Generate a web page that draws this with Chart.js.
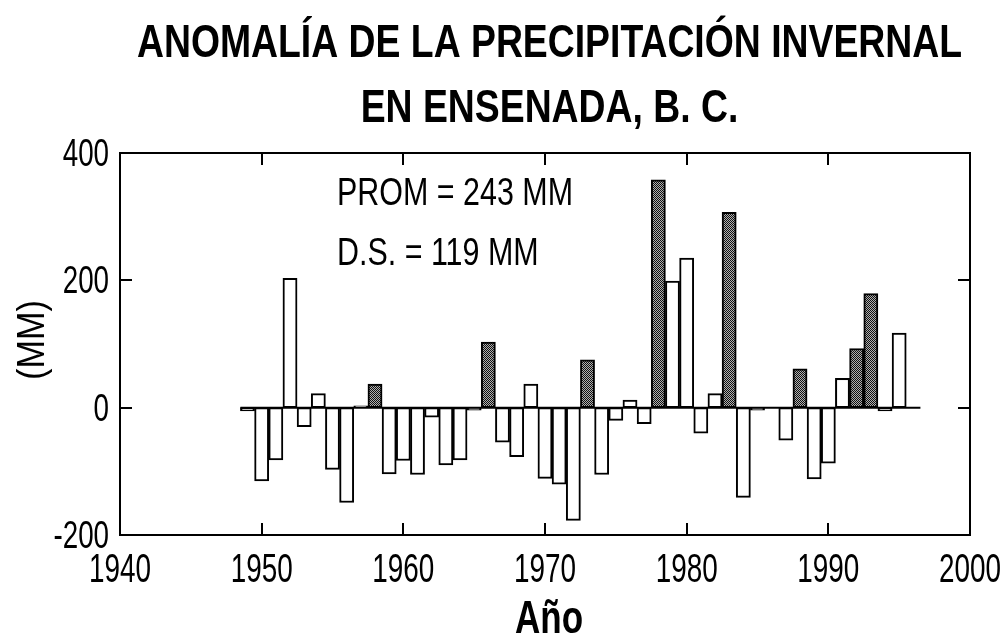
<!DOCTYPE html>
<html>
<head>
<meta charset="utf-8">
<script src="https://cdn.jsdelivr.net/npm/chart.js@4"></script>
<style>
  body { margin: 0; background: #fff; }
  canvas { display: block; }
</style>
</head>
<body>
<canvas id="anomalia_canvas" width="1003" height="637"></canvas>
<script>
// Datos (anomalia en mm)
const years = [1949, 1950, 1951, 1952, 1953, 1954, 1955, 1956, 1957, 1958,
               1959, 1960, 1961, 1962, 1963, 1964, 1965, 1966, 1967, 1968,
               1969, 1970, 1971, 1972, 1973, 1974, 1975, 1976, 1977, 1978,
               1979, 1980, 1981, 1982, 1983, 1984, 1985, 1986, 1987, 1988,
               1989, 1990, 1991, 1992, 1993, 1994, 1995];
const anomalias = [-5, -115, -82, 203, -30, 22, -97, -149, 3, 37,
                   -104, -83, -105, -15, -90, -82, -4, 103, -54, -77,
                   37, -111, -120, -177, 75, -105, -20, 12, -25, 358,
                   199, 235, -40, 22, 307, -141, -4, 0, -51, 61,
                   -112, -87, 46, 93, 179, -5, 117];
// anos con barra sombreada
const sombreados = [1958, 1966, 1973, 1978, 1983, 1988, 1992, 1993];
const zeroLine = [1948.5, 1996.5];
const xTicks = [1940, 1950, 1960, 1970, 1980, 1990, 2000];
const yTicks = [-200, 0, 200, 400];

const titulo = ['ANOMALÍA DE LA PRECIPITACIÓN INVERNAL', 'EN ENSENADA, B. C.'];
const notas = ['PROM = 243 MM', 'D.S. = 119 MM'];

const ctx = document.getElementById('anomalia_canvas');

// trama punteada para las barras sombreadas
const pc = document.createElement('canvas');
pc.width = 2; pc.height = 2;
const p = pc.getContext('2d');
p.fillStyle = '#b0b0b0'; p.fillRect(0, 0, 2, 2);
p.fillStyle = '#111'; p.fillRect(0, 0, 1, 1); p.fillRect(1, 1, 1, 1);
const trama = ctx.getContext('2d').createPattern(pc, 'repeat');

const FAM = '"Liberation Sans", Arial, sans-serif';

// texto angosto: escala horizontal para llegar al ancho deseado
function drawFit(c, text, x, y, font, width, align) {
    c.save();
    c.font = font;
    const sx = width / c.measureText(text).width;
    c.textAlign = align;
    c.textBaseline = 'alphabetic';
    c.translate(x, y);
    c.scale(sx, 1);
    c.fillText(text, 0, 0);
    c.restore();
    return sx;
}
function drawScaled(c, text, x, y, font, sx, align) {
    c.save();
    c.font = font;
    c.textAlign = align;
    c.textBaseline = 'alphabetic';
    c.translate(x, y);
    c.scale(sx, 1);
    c.fillText(text, 0, 0);
    c.restore();
}

const marco = {
    id: 'marco',
    afterDraw(chart) {
        const c = chart.ctx;
        const a = chart.chartArea;
        const xs = chart.scales.x, ys = chart.scales.y;
        c.save();
        c.strokeStyle = '#000';
        c.fillStyle = '#000';
        c.lineWidth = 2;
        c.strokeRect(a.left, a.top, a.right - a.left, a.bottom - a.top);

        // marcas hacia adentro
        c.beginPath();
        xTicks.forEach(v => {
            const px = Math.round(xs.getPixelForValue(v));
            c.moveTo(px, a.bottom); c.lineTo(px, a.bottom - 12);
            c.moveTo(px, a.top); c.lineTo(px, a.top + 12);
        });
        yTicks.forEach(v => {
            const py = Math.round(ys.getPixelForValue(v));
            c.moveTo(a.left, py); c.lineTo(a.left + 12, py);
            c.moveTo(a.right, py); c.lineTo(a.right - 12, py);
        });
        c.stroke();

        // etiquetas de los ejes
        xTicks.forEach(v => {
            drawScaled(c, String(v), xs.getPixelForValue(v), 582, '41px ' + FAM, 0.68, 'center');
        });
        yTicks.forEach(v => {
            drawScaled(c, String(v), a.left - 11, ys.getPixelForValue(v) + 13, '38px ' + FAM, 0.73, 'right');
        });

        // titulo
        const sx = drawFit(c, titulo[0], 549.5, 57, 'bold 47px ' + FAM, 825, 'center');
        drawScaled(c, titulo[1], 549.5, 122, 'bold 47px ' + FAM, sx, 'center');

        // notas
        const sn = drawFit(c, notas[0], 337, 205, '38px ' + FAM, 236, 'left');
        drawScaled(c, notas[1], 337, 265, '38px ' + FAM, sn, 'left');

        // titulos de ejes
        drawFit(c, 'Año', 549, 633, 'bold 46px ' + FAM, 68, 'center');
        c.save();
        c.translate(44, 340);
        c.rotate(-Math.PI / 2);
        drawFit(c, '(MM)', 0, 0, '38px ' + FAM, 80, 'center');
        c.restore();
        c.restore();
    }
};

new Chart(ctx, {
    type: 'bar',
    data: {
        datasets: [{
            type: 'line',
            data: zeroLine.map(x => ({ x: x, y: 0 })),
            borderColor: '#000',
            borderWidth: 2,
            pointRadius: 0,
            order: 0
        }, {
            data: years.map((y, i) => ({ x: y, y: anomalias[i] })),
            backgroundColor: years.map(y => sombreados.includes(y) ? trama : '#fff'),
            borderColor: '#000',
            borderWidth: 2,
            borderSkipped: false,
            categoryPercentage: 1,
            barPercentage: 1,
            order: 1
        }]
    },
    options: {
        responsive: false,
        animation: false,
        layout: {
            padding: { left: 120, right: 33, top: 153, bottom: 102 }
        },
        scales: {
            x: { type: 'linear', min: 1940, max: 2000, offset: false, display: false },
            y: { type: 'linear', min: -200, max: 400, display: false }
        },
        plugins: {
            legend: { display: false },
            tooltip: { enabled: false }
        }
    },
    plugins: [marco]
});
</script>
</body>
</html>
